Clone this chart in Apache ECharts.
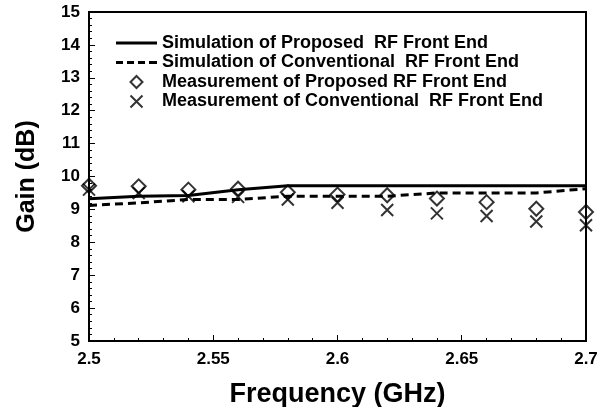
<!DOCTYPE html>
<html>
<head>
<meta charset="utf-8">
<script src="https://cdn.jsdelivr.net/npm/echarts@6/dist/echarts.min.js"></script>
<style>
  html, body { margin: 0; padding: 0; background: #fff; }
  #chart { width: 609px; height: 407px; }
</style>
</head>
<body>
<div id="chart"></div>
<script>
// frequency points (GHz)
const freq = [2.5, 2.52, 2.54, 2.56, 2.58, 2.6, 2.62, 2.64, 2.66, 2.68, 2.7];
// gain values (dB)
const simProposed = [9.32, 9.4, 9.42, 9.6, 9.72, 9.72, 9.72, 9.72, 9.72, 9.72, 9.72];
const simConventional = [9.12, 9.2, 9.3, 9.3, 9.4, 9.4, 9.4, 9.5, 9.5, 9.5, 9.63];
const measProposed = [9.72, 9.7, 9.6, 9.63, 9.52, 9.45, 9.43, 9.33, 9.22, 9.02, 8.92];
const measConventional = [9.6, 9.5, 9.4, 9.38, 9.3, 9.2, 8.98, 8.88, 8.8, 8.63, 8.52];

const xTickLabels = ["2.5", "2.55", "2.6", "2.65", "2.7"];
const yTickLabels = ["5", "6", "7", "8", "9", "10", "11", "12", "13", "14", "15"];

const seriesNames = [
  "Simulation of Proposed  RF Front End",
  "Simulation of Conventional  RF Front End",
  "Measurement of Proposed RF Front End",
  "Measurement of Conventional  RF Front End",
];

const font = "Liberation Sans, Arial, sans-serif";
const pairs = (ys) => freq.map((f, i) => [f, ys[i]]);

// legend glyphs
const solidIcon = "path://M0,0h41v3h-41z";
const dashIcon = "path://M0,0h7v3h-7zM11,0h7v3h-7zM22,0h7v3h-7zM33,0h8v3h-8z";
const diamondIcon = "path://M6,0L12,6L6,12L0,6Z";
const crossIcon = "path://M0,0L10,10M10,0L0,10";

const chart = echarts.init(document.getElementById("chart"));

const option = {
  animation: false,
  grid: {
    left: 89,
    right: 23,
    top: 12,
    bottom: 66,
    outerBoundsMode: "none",
    show: true,
    borderColor: "#000",
    borderWidth: 2,
  },
  legend: {
    orient: "vertical",
    left: 116,
    top: 34,
    padding: 0,
    itemWidth: 41,
    itemHeight: 12,
    itemGap: 1.5,
    textStyle: { fontFamily: font, fontWeight: "bold", fontSize: 18, lineHeight: 18, color: "#000" },
    data: [
      { name: seriesNames[0], icon: solidIcon, itemStyle: { color: "#000", borderWidth: 0 } },
      { name: seriesNames[1], icon: dashIcon, itemStyle: { color: "#000", borderWidth: 0 } },
      { name: seriesNames[2], icon: diamondIcon },
      { name: seriesNames[3], icon: crossIcon },
    ],
  },
  xAxis: {
    type: "value",
    min: 2.5,
    max: 2.7,
    interval: 0.05,
    name: "Frequency (GHz)",
    nameLocation: "middle",
    nameGap: 40,
    nameTextStyle: { fontFamily: font, fontWeight: "bold", fontSize: 27, color: "#000" },
    axisLine: { lineStyle: { color: "#000", width: 2 } },
    axisTick: { inside: true, length: 6, lineStyle: { color: "#000", width: 1 } },
    minorTick: { show: true, splitNumber: 5, length: 3, lineStyle: { color: "#000", width: 1 } },
    splitLine: { show: false },
    axisLabel: {
      fontFamily: font,
      fontWeight: "bold",
      fontSize: 17,
      color: "#000",
      margin: 10,
      formatter: (v) => xTickLabels[Math.round((v - 2.5) / 0.05)],
    },
  },
  yAxis: {
    type: "value",
    min: 5,
    max: 15,
    interval: 1,
    name: "Gain (dB)",
    nameLocation: "middle",
    nameGap: 49,
    nameTextStyle: { fontFamily: font, fontWeight: "bold", fontSize: 25, color: "#000" },
    axisLine: { lineStyle: { color: "#000", width: 2 } },
    axisTick: { inside: true, length: 6, lineStyle: { color: "#000", width: 1 } },
    minorTick: { show: true, splitNumber: 5, length: 3, lineStyle: { color: "#000", width: 1 } },
    splitLine: { show: false },
    axisLabel: {
      fontFamily: font,
      fontWeight: "bold",
      fontSize: 17,
      color: "#000",
      margin: 9,
      formatter: (v) => yTickLabels[Math.round(v - 5)],
    },
  },
  series: [
    {
      name: seriesNames[0],
      type: "line",
      symbol: "none",
      data: pairs(simProposed),
      lineStyle: { color: "#000", width: 3 },
      itemStyle: { color: "#000" },
    },
    {
      name: seriesNames[1],
      type: "line",
      symbol: "none",
      data: pairs(simConventional),
      lineStyle: { color: "#000", width: 3, type: [8, 5] },
      itemStyle: { color: "#000" },
    },
    {
      name: seriesNames[2],
      type: "scatter",
      symbol: "diamond",
      symbolSize: 14,
      data: pairs(measProposed),
      itemStyle: { color: "rgba(0,0,0,0)", borderColor: "#000", borderWidth: 2 },
    },
    {
      name: seriesNames[3],
      type: "scatter",
      symbol: crossIcon,
      symbolSize: 12,
      data: pairs(measConventional),
      itemStyle: { color: "rgba(0,0,0,0)", borderColor: "#000", borderWidth: 2 },
    },
  ],
};

chart.setOption(option);
</script>
</body>
</html>
